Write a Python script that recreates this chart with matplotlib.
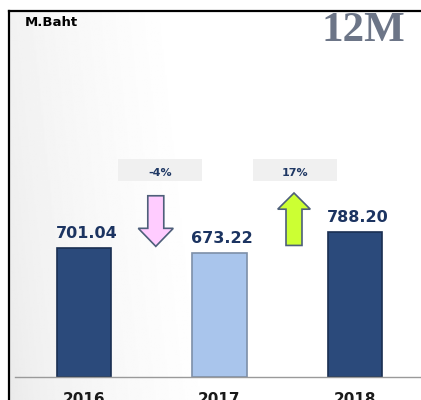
import numpy as np
import matplotlib
matplotlib.use("Agg")
import matplotlib.pyplot as plt
from matplotlib.patches import FancyArrow, Rectangle

years = ["2016", "2017", "2018"]
values = [701.04, 673.22, 788.20]
bar_colors = ["#2B4A7B", "#A9C5EC", "#2B4A7B"]
edge_colors = ["#1A2F52", "#7D8FA8", "#1A2F52"]
unit = "M.Baht"
period = "12M"

W, H = 421, 400
fig = plt.figure(figsize=(W / 100, H / 100), dpi=100)

# background with soft gradient and frame (top + left)
bg = fig.add_axes([8.5 / W, 0, 1 - 8.5 / W, (H - 11) / H])
gx = np.linspace(0, 1, 300)
gy = np.linspace(0, 1, 300)
X, Y = np.meshgrid(gx, gy)
shade = 0.91 + 0.09 * np.clip(X * 2.0 + (1 - Y) * 0.2, 0, 1) ** 0.55
bg.imshow(shade, cmap="gray", vmin=0, vmax=1, extent=[0, 1, 0, 1], aspect="auto")
bg.set_xlim(0, 1)
bg.set_ylim(0, 1)
bg.set_xticks([])
bg.set_yticks([])
for s in ["bottom", "right"]:
    bg.spines[s].set_visible(False)
for s in ["top", "left"]:
    bg.spines[s].set_linewidth(1.6)
    bg.spines[s].set_color("black")

# bar axes: baseline at y=377px, 0.184 px per unit
base_px = 377
scale = 0.184
ax = fig.add_axes([8.5 / W, (H - base_px) / H, 1 - 8.5 / W, (base_px - 11) / H])
ax.patch.set_visible(False)
x = np.arange(len(values))
ax.bar(x, values, width=0.4, color=bar_colors, edgecolor=edge_colors, linewidth=1.2, zorder=3)
ax.set_xlim(-0.557, -0.557 + (W - 8.5) / 135.5)
ax.set_ylim(0, (base_px - 11) / scale)
for s in ax.spines.values():
    s.set_visible(False)
ax.axhline(0, xmin=0.015, xmax=1, color="#9A9A9A", linewidth=1.0, zorder=4, clip_on=False)
ax.set_yticks([])
ax.set_xticks(x)
ax.set_xticklabels(years, fontsize=11, fontweight="bold", color="#1A1A1A")
ax.tick_params(axis="x", length=0, pad=11)

for xi, v in zip(x, values):
    ax.annotate(f"{v:.2f}", (xi, v), xytext=(2, 5), textcoords="offset points",
                ha="center", va="bottom", fontsize=11.5, fontweight="bold", color="#1C3461")

# change boxes and arrows
for i in range(len(values) - 1):
    pct = (values[i + 1] - values[i]) / values[i] * 100
    cx = i + 0.56
    ax.add_patch(Rectangle((cx - 0.31, 1065), 0.62, 120, facecolor="#F0F0F0",
                           edgecolor="none", zorder=2))
    ax.text(cx, 1110, f"{pct:.0f}%", ha="center", va="center", fontsize=8,
            fontweight="bold", color="#1F3864", zorder=4)
    if pct < 0:
        ax.add_patch(FancyArrow(cx - 0.03, 985, 0, -275, width=0.118, head_width=0.258,
                                head_length=98, length_includes_head=True,
                                facecolor="#FFCCFF", edgecolor="#4E5F7A", linewidth=1.2, zorder=4))
    else:
        ax.add_patch(FancyArrow(cx - 0.01, 715, 0, 285, width=0.118, head_width=0.24,
                                head_length=88, length_includes_head=True,
                                facecolor="#CCFF33", edgecolor="#4E5F7A", linewidth=1.2, zorder=4))

fig.text(25 / W, 1 - 23 / H, unit, ha="left", va="center", fontsize=9.5,
         fontweight="bold", color="black")
fig.text(405 / W, 1 - 31 / H, period, ha="right", va="center", fontsize=31,
         fontweight="bold", family="Liberation Serif", color="#6C7587")

fig.savefig("out.png", dpi=100)
